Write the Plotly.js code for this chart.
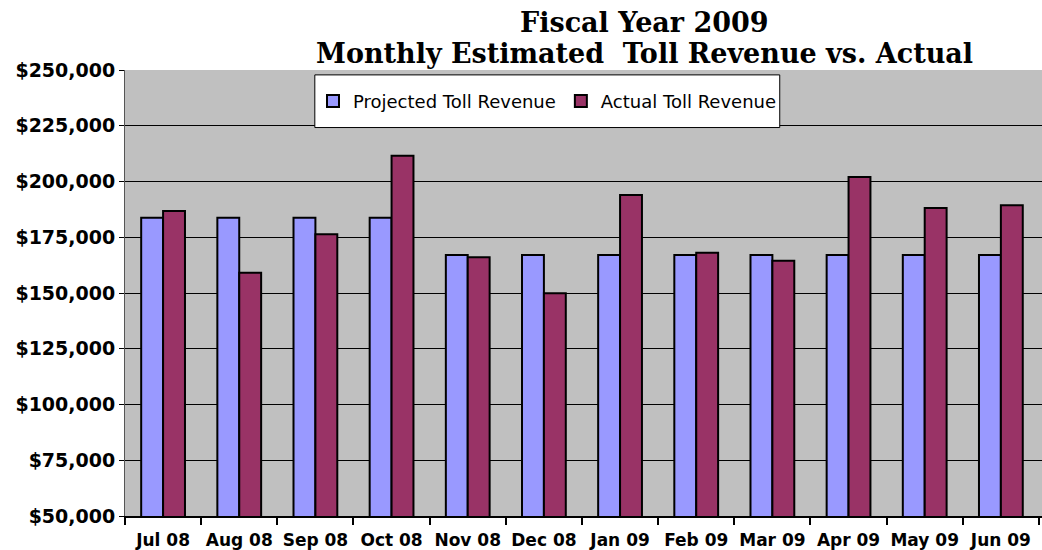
<!DOCTYPE html>
<html>
<head>
<meta charset="utf-8">
<script src="https://cdn.plot.ly/plotly-3.0.1.min.js"></script>
<style>
html,body{margin:0;padding:0;background:#fff;overflow:hidden;}
#chart{width:1042px;height:550px;}
</style>
</head>
<body>
<div id="chart"></div>
<script>
// Data
const months = ["Jul 08","Aug 08","Sep 08","Oct 08","Nov 08","Dec 08","Jan 09","Feb 09","Mar 09","Apr 09","May 09","Jun 09"];
const projected = [183700,183700,183700,183700,167000,167000,167000,167000,167000,167000,167000,167000];
const actual = [186800,159100,176300,211600,166000,149900,194000,168100,164500,202000,188100,189300];
const titleLine1 = "Fiscal Year 2009";
const titleLine2 = "Monthly Estimated  Toll Revenue vs. Actual";
const yTicks = [50000,75000,100000,125000,150000,175000,200000,225000,250000];

const traces = [
  {type:"bar", name:"Projected Toll Revenue", x:months, y:projected,
   marker:{color:"#9999FF", line:{color:"#000", width:2}}},
  {type:"bar", name:"Actual Toll Revenue", x:months, y:actual,
   marker:{color:"#993366", line:{color:"#000", width:2}}}
];

const layout = {
  width:1042, height:550,
  margin:{l:125, r:0, t:70, b:34, pad:0},
  paper_bgcolor:"#fff", plot_bgcolor:"#C0C0C0",
  barmode:"group", bargap:0.425, bargroupgap:0,
  showlegend:true,
  legend:{orientation:"h", x:0.205, y:0.930, xanchor:"left", yanchor:"middle",
          bgcolor:"rgba(0,0,0,0)", borderwidth:0,
          font:{family:"DejaVu Sans", size:18, color:"#000"}, traceorder:"normal"},
  xaxis:{type:"category", range:[-0.5, 11.54], tickson:"boundaries", tickangle:0,
         ticks:"outside", ticklen:7, tickwidth:2, tickcolor:"#000",
         showline:true, linecolor:"#000", linewidth:2, showgrid:false,
         ticklabelstandoff:8,
         tickfont:{family:"DejaVu Sans", size:17, color:"#000", weight:"bold"},
         automargin:false, fixedrange:true},
  yaxis:{range:[50000,250000], tickvals:yTicks, tickformat:"$,.0f",
         ticks:"outside", ticklen:5, tickwidth:1, tickcolor:"#000",
         showline:true, linecolor:"#555", linewidth:1,
         showgrid:true, gridcolor:"#000", gridwidth:1, zeroline:false,
         tickfont:{family:"DejaVu Sans", size:19, color:"#000", weight:"bold"},
         automargin:false, fixedrange:true},
  shapes:[
    {type:"rect", xref:"paper", yref:"paper", x0:0.207, x1:0.714, y0:0.871, y1:0.989,
     fillcolor:"#fff", line:{color:"#000", width:1}, layer:"above"}
  ],
  annotations:[
    {text:titleLine1, xref:"paper", yref:"paper", x:0.567, y:1.107, xanchor:"center", yanchor:"middle",
     showarrow:false, font:{family:"DejaVu Serif", size:27, color:"#000", weight:"bold"}},
    {text:titleLine2, xref:"paper", yref:"paper", x:0.567, y:1.036, xanchor:"center", yanchor:"middle",
     showarrow:false, font:{family:"DejaVu Serif", size:27, color:"#000", weight:"bold"}}
  ]
};

Plotly.newPlot("chart", traces, layout, {staticPlot:true, displayModeBar:false});
</script>
</body>
</html>
